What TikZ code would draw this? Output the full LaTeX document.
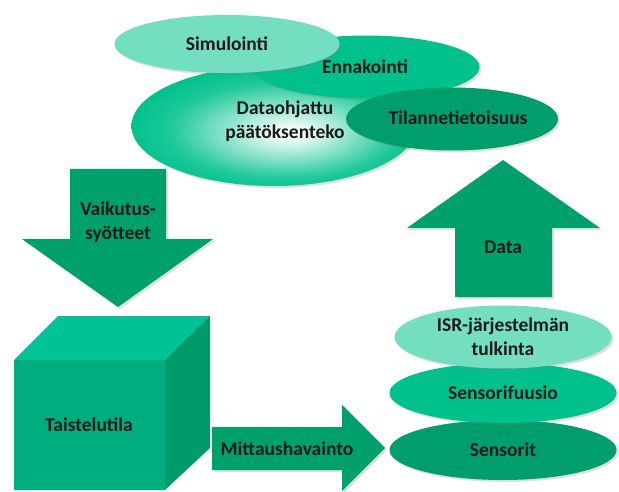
\documentclass[tikz,border=0pt]{standalone}
\usepackage{fontspec}
\setmainfont{Carlito}
\usetikzlibrary{shapes.geometric,shadows}
\definecolor{mintl}{HTML}{74DEC0}
\definecolor{gmid}{HTML}{00C18C}
\definecolor{gdark}{HTML}{009E6C}
\definecolor{garrow}{HTML}{00A06C}
\definecolor{cubefront}{HTML}{00AD7E}
\definecolor{cubetop}{HTML}{00C295}
\definecolor{cuberight}{HTML}{009A6A}
\definecolor{txt}{HTML}{1A1A1A}
\pgfdeclareradialshading{bigglow}{\pgfpoint{3bp}{-3bp}}{%
  color(0bp)=(white); color(4bp)=(white!88!gmid); color(12bp)=(white!50!gmid);
  color(20bp)=(white!12!gmid); color(27bp)=(gmid); color(50bp)=(gmid)}
\tikzset{
  lbl/.style={text=txt, font=\fontsize{19.5}{24}\selectfont\bfseries, align=center, inner sep=0pt},
  ell/.style={ellipse, inner sep=0pt, draw=none, drop shadow={opacity=0.25, shadow xshift=2pt, shadow yshift=-2pt}},
  blockarrow/.style={fill=garrow, draw=none, drop shadow={opacity=0.25, shadow xshift=2pt, shadow yshift=-2pt}},
}
\begin{document}
\begin{tikzpicture}[x=1pt,y=-1pt]
\useasboundingbox[fill=white] (0,0) rectangle (619,492);
% top cluster
\node[ell, shading=bigglow, minimum width=285pt, minimum height=120pt] (dat) at (274,126) {};
\node[ell, fill=gmid, minimum width=227pt, minimum height=63pt] (enn) at (366,67) {};
\node[ell, fill=mintl, minimum width=225pt, minimum height=58pt] (sim) at (227,44) {};
\node[ell, fill=gdark, minimum width=212pt, minimum height=63pt] (til) at (452,119) {};
\node[lbl] (simt) at (227,44) {Simulointi};
\node[lbl] (ennt) at (365,67) {Ennakointi};
\node[lbl] (datt) at (285,121) {Dataohjattu\\päätöksenteko};
\node[lbl] (tilt) at (458,118) {Tilannetietoisuus};
% down arrow
\path[blockarrow] (70,169) -- (166,169) -- (166,239) -- (213,239) -- (118,307) -- (22,239) -- (70,239) -- cycle;
\node[lbl] (vai) at (118,222) {Vaikutus-\\syötteet};
% cube
\fill[cubetop] (14,360) -- (58,316) -- (210,316) -- (165,360) -- cycle;
\fill[cuberight] (165,360) -- (210,316) -- (210,448) -- (165,490) -- cycle;
\fill[cubefront] (14,360) rectangle (165,490);
\node[lbl] (tai) at (89,425) {Taistelutila};
% right arrow
\path[blockarrow] (212,427) -- (342,427) -- (342,405) -- (385,448) -- (342,491) -- (342,470) -- (212,470) -- cycle;
\node[lbl] (mit) at (287,449) {Mittaushavainto};
% up arrow
\path[blockarrow] (455,297) -- (455,228) -- (407,228) -- (503,160) -- (600,228) -- (552,228) -- (552,297) -- cycle;
\node[lbl] (dta) at (503,247) {Data};
% stacked ellipses
\node[ell, fill=gdark, minimum width=227pt, minimum height=60pt] (sen) at (503,450) {};
\node[ell, fill=gmid, minimum width=227pt, minimum height=60pt] (fus) at (503,393) {};
\node[ell, fill=mintl, minimum width=217pt, minimum height=63pt] (isr) at (503,337) {};
\node[lbl] (sent) at (503,450) {Sensorit};
\node[lbl] (fust) at (503,393) {Sensorifuusio};
\node[lbl] (isrt) at (503,337) {ISR-järjestelmän\\tulkinta};
\end{tikzpicture}
\end{document}
